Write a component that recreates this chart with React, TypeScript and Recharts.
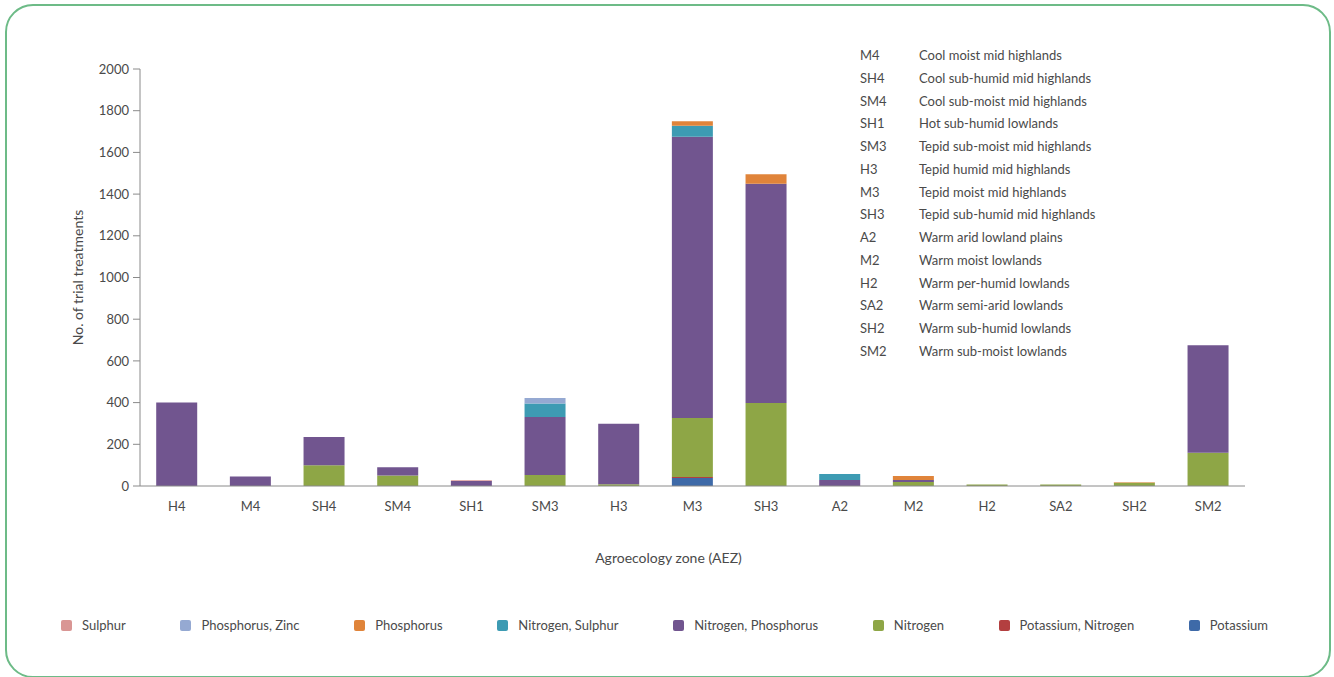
import React from "react";
import { BarChart, Bar, XAxis, YAxis, Label } from "recharts";

// AEZ categories on the x axis
const zones = ["H4", "M4", "SH4", "SM4", "SH1", "SM3", "H3", "M3", "SH3", "A2", "M2", "H2", "SA2", "SH2", "SM2"];

// counts per treatment, one value per zone
const potassium = [0, 0, 0, 0, 0, 0, 0, 38, 0, 0, 0, 0, 0, 0, 0];
const potassiumNitrogen = [0, 0, 0, 0, 0, 0, 0, 5, 0, 0, 0, 0, 0, 0, 0];
const nitrogen = [0, 0, 100, 50, 0, 53, 8, 283, 398, 0, 19, 7, 7, 15, 160];
const nitrogenPhosphorus = [400, 45, 135, 40, 24, 278, 290, 1349, 1052, 29, 10, 0, 0, 0, 515];
const nitrogenSulphur = [0, 0, 0, 0, 0, 65, 0, 53, 0, 29, 0, 0, 0, 0, 0];
const phosphorus = [0, 0, 0, 0, 0, 0, 0, 22, 45, 0, 19, 0, 0, 3, 0];
const phosphorusZinc = [0, 0, 0, 0, 0, 26, 0, 0, 0, 0, 0, 0, 0, 0, 0];
const sulphur = [0, 0, 0, 0, 4, 0, 0, 0, 0, 0, 0, 0, 0, 0, 0];

const yTicks = [0, 200, 400, 600, 800, 1000, 1200, 1400, 1600, 1800, 2000];

// key shown top right
const aezCodes = ["M4", "SH4", "SM4", "SH1", "SM3", "H3", "M3", "SH3", "A2", "M2", "H2", "SA2", "SH2", "SM2"];
const aezNames = [
  "Cool moist mid highlands",
  "Cool sub-humid mid highlands",
  "Cool sub-moist mid highlands",
  "Hot sub-humid lowlands",
  "Tepid sub-moist mid highlands",
  "Tepid humid mid highlands",
  "Tepid moist mid highlands",
  "Tepid sub-humid mid highlands",
  "Warm arid lowland plains",
  "Warm moist lowlands",
  "Warm per-humid lowlands",
  "Warm semi-arid lowlands",
  "Warm sub-humid lowlands",
  "Warm sub-moist lowlands",
];

// stacking order, bottom to top
const series = [
  { key: "potassium", name: "Potassium", color: "#3e6aa8", values: potassium },
  { key: "potassiumNitrogen", name: "Potassium, Nitrogen", color: "#b33f40", values: potassiumNitrogen },
  { key: "nitrogen", name: "Nitrogen", color: "#8ea646", values: nitrogen },
  { key: "nitrogenPhosphorus", name: "Nitrogen, Phosphorus", color: "#71558f", values: nitrogenPhosphorus },
  { key: "nitrogenSulphur", name: "Nitrogen, Sulphur", color: "#3d9bb3", values: nitrogenSulphur },
  { key: "phosphorus", name: "Phosphorus", color: "#e0843a", values: phosphorus },
  { key: "phosphorusZinc", name: "Phosphorus, Zinc", color: "#95a9d2", values: phosphorusZinc },
  { key: "sulphur", name: "Sulphur", color: "#d99694", values: sulphur },
];

const data = zones.map((zone, i) => {
  const row: Record<string, string | number> = { zone };
  series.forEach((s) => {
    row[s.key] = s.values[i];
  });
  return row;
});

const FONT = "Lato, 'Open Sans', sans-serif";
const TEXT = "#4a4a4a";

const App: React.FC = () => {
  return (
    <div style={{ position: "fixed", left: 0, top: 0, width: 1334, height: 677, background: "#fff", fontFamily: FONT }}>
      {/* rounded frame */}
      <div
        style={{
          position: "absolute",
          left: 5,
          top: 4,
          width: 1322,
          height: 670,
          border: "2px solid #6dbb87",
          borderRadius: 28,
        }}
      />

      <div style={{ position: "absolute", left: 0, top: 0 }}>
        <BarChart
          width={1334}
          height={600}
          data={data}
          margin={{ top: 69, right: 89, left: 70, bottom: 84 }}
          barCategoryGap="22%"
        >
          <XAxis
            dataKey="zone"
            height={30}
            tickLine={false}
            tickMargin={10}
            stroke="#8a8a8a"
            tick={{ fill: TEXT, fontSize: 13, fontFamily: FONT }}
          >
            <Label
              value="Agroecology zone (AEZ)"
              position="bottom"
              offset={37}
              dx={-24}
              style={{ fill: TEXT, fontSize: 14, fontFamily: FONT }}
            />
          </XAxis>
          <YAxis
            width={70}
            domain={[0, 2000]}
            ticks={yTicks}
            tickSize={7}
            tickMargin={4}
            stroke="#8a8a8a"
            tick={{ fill: TEXT, fontSize: 13, fontFamily: FONT }}
          >
            <Label
              value="No. of trial treatments"
              angle={-90}
              position="insideLeft"
              offset={8}
              style={{ textAnchor: "middle", fill: TEXT, fontSize: 14, fontFamily: FONT }}
            />
          </YAxis>
          {series.map((s) => (
            <Bar key={s.key} dataKey={s.key} name={s.name} stackId="a" fill={s.color} isAnimationActive={false} />
          ))}
        </BarChart>
      </div>

      {/* AEZ key */}
      <div style={{ position: "absolute", left: 860, top: 44, fontSize: 13, color: TEXT, lineHeight: "22.77px" }}>
        {aezCodes.map((code, i) => (
          <div key={code} style={{ display: "flex" }}>
            <span style={{ width: 59 }}>{code}</span>
            <span>{aezNames[i]}</span>
          </div>
        ))}
      </div>

      {/* legend */}
      <div
        style={{
          position: "absolute",
          left: 61,
          width: 1207,
          top: 617,
          display: "flex",
          justifyContent: "space-between",
          fontSize: 13,
          color: TEXT,
        }}
      >
        {[...series].reverse().map((s) => (
          <div key={s.key} style={{ display: "flex", alignItems: "center" }}>
            <span
              style={{
                width: 11,
                height: 11,
                borderRadius: 2,
                background: s.color,
                marginRight: 10,
                display: "inline-block",
              }}
            />
            <span>{s.name}</span>
          </div>
        ))}
      </div>
    </div>
  );
};

export default App;
